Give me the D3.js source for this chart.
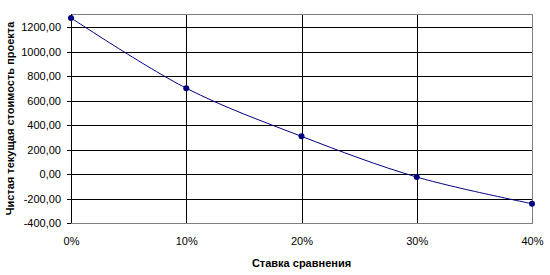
<!DOCTYPE html>
<html>
<head>
<meta charset="utf-8">
<script src="https://cdn.jsdelivr.net/npm/d3@7"></script>
<style>
  body { margin: 0; background: #fff; }
  text { font-family: Arial, "Liberation Sans", sans-serif; }
</style>
</head>
<body>
<svg></svg>
<script>
let svgWidth = 550;
let svgHeight = 275;

// data
let rates = [0, 0.1, 0.2, 0.3, 0.4];
let npv = [1278, 703, 309, -24, -242];
let yTicks = [-400, -200, 0, 200, 400, 600, 800, 1000, 1200];
let xTitle = "Ставка сравнения";
let yTitle = "Чистая текущая стоимость проекта";

let plotLeft = 71, plotRight = 532, plotTop = 14, plotBottom = 223;

let svg = d3.select('svg').attr('width', svgWidth).attr('height', svgHeight);

let xScale = d3.scaleLinear().domain([0, 0.4]).range([plotLeft, plotRight]);
let yScale = d3.scaleLinear().domain([-400, 1310]).range([plotBottom, plotTop]);

let fmt = d => d3.format(".2f")(d).replace(".", ",").replace("−", "-");

// horizontal gridlines + y labels
let y_axis = d3.axisLeft(yScale).tickValues(yTicks)
    .tickSizeInner(-(plotRight - plotLeft))
    .tickSizeOuter(0)
    .tickPadding(10)
    .tickFormat(fmt);
let gy = svg.append('g').attr('transform', 'translate(' + plotLeft + ',0)').call(y_axis);
gy.select('.domain').remove();
gy.selectAll('.tick line').attr('stroke', '#000').attr('shape-rendering', 'crispEdges');
gy.selectAll('.tick text').attr('font-size', 11).attr('fill', '#000');
// small outer tick marks
gy.selectAll('.tick').append('line')
    .attr('x1', -4).attr('x2', 0)
    .attr('stroke', '#000').attr('shape-rendering', 'crispEdges');

// vertical gridlines + x labels
let x_axis = d3.axisBottom(xScale).tickValues(rates)
    .tickSizeInner(-(plotBottom - plotTop))
    .tickSizeOuter(0)
    .tickPadding(14)
    .tickFormat(d3.format(".0%"));
let gx = svg.append('g').attr('transform', 'translate(0,' + plotBottom + ')').call(x_axis);
gx.select('.domain').remove();
gx.selectAll('.tick line').attr('stroke', '#000').attr('shape-rendering', 'crispEdges');
gx.selectAll('.tick text').attr('font-size', 11).attr('fill', '#000');

// plot border (grey), left axis black
svg.append('rect')
    .attr('x', plotLeft).attr('y', plotTop)
    .attr('width', plotRight - plotLeft).attr('height', plotBottom - plotTop)
    .attr('fill', 'none').attr('stroke', '#808080')
    .attr('shape-rendering', 'crispEdges');
svg.append('line')
    .attr('x1', plotLeft).attr('x2', plotLeft).attr('y1', plotTop).attr('y2', plotBottom)
    .attr('stroke', '#000').attr('shape-rendering', 'crispEdges');

// smoothed series line
let lineFunction = d3.line()
    .x((d, i) => xScale(rates[i]))
    .y(d => yScale(d))
    .curve(d3.curveCatmullRom);

svg.append('path')
    .attr('d', lineFunction(npv))
    .attr('fill', 'none')
    .attr('stroke', '#000080')
    .attr('stroke-width', 1);

svg.append('g').selectAll('circle')
    .data(npv)
    .enter().append('circle')
    .attr('cx', (d, i) => xScale(rates[i]))
    .attr('cy', d => yScale(d))
    .attr('r', 3)
    .attr('fill', '#000080');

// titles
svg.append('text')
    .attr('x', (plotLeft + plotRight) / 2)
    .attr('y', 267)
    .attr('text-anchor', 'middle')
    .attr('font-size', 11)
    .attr('font-weight', 'bold')
    .text(xTitle);

svg.append('text')
    .attr('transform', 'translate(14,' + (plotTop + plotBottom) / 2 + ') rotate(-90)')
    .attr('text-anchor', 'middle')
    .attr('font-size', 11)
    .attr('font-weight', 'bold')
    .text(yTitle);
</script>
</body>
</html>
